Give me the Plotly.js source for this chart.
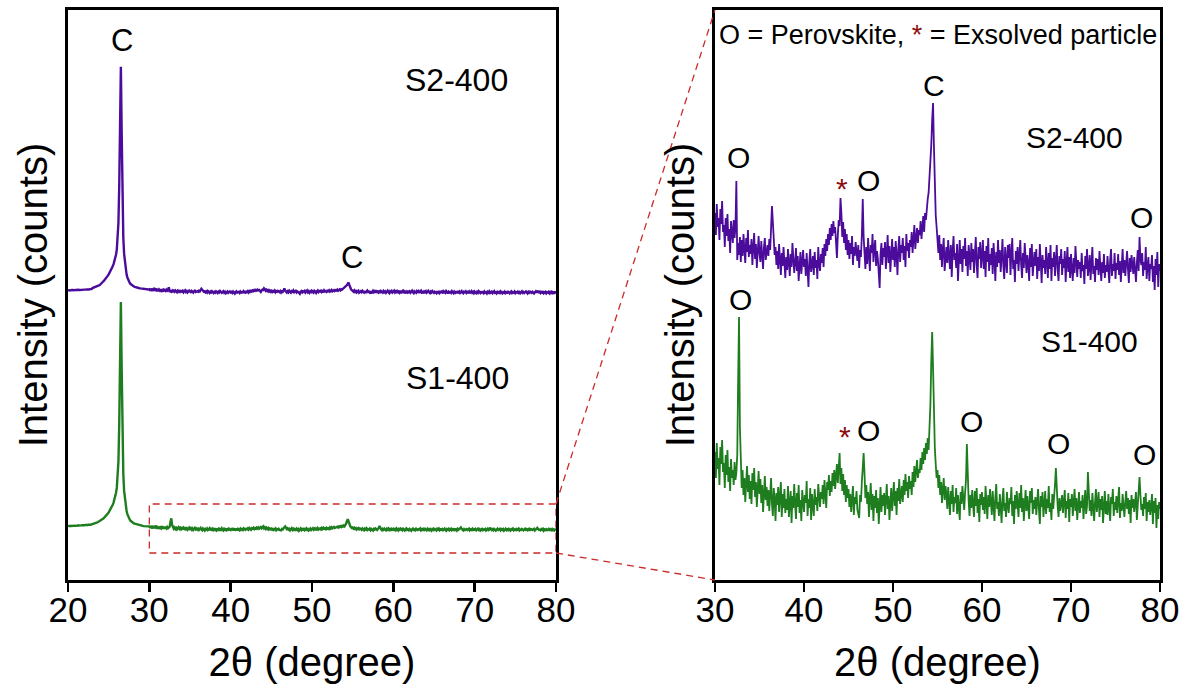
<!DOCTYPE html>
<html>
<head>
<meta charset="utf-8">
<script src="https://cdn.plot.ly/plotly-3.0.1.min.js"></script>
<style>
  html, body { margin: 0; padding: 0; background: #ffffff; }
  #chart { width: 1181px; height: 684px; }
</style>
</head>
<body>
<div id="chart"></div>
<script>
// XRD scans of the two samples, 2θ = 20.0° … 80.0° in 0.1° steps (counts).
const scanStart = 20.0;
const scanStep = 0.1;

// S2-400 (one row per degree)
const s2Counts = [
  332,338,335,330,337,341,334,336,339,333,
  337,340,335,342,338,336,343,339,341,345,
  342,346,344,348,345,350,347,352,349,355,
  370,374,378,383,388,395,401,408,415,422,
  440,451,463,476,490,505,521,538,556,577,
  600,622,646,672,700,732,770,815,865,925,
  1010,1180,1460,2080,3150,4060,2960,1760,1210,940,
  780,680,600,545,505,478,455,438,425,412,
  403,397,392,386,381,378,374,370,368,365,
  362,360,357,355,353,352,350,349,348,346,
  352,330,361,338,347,325,356,341,364,333,
  340,318,347,329,351,324,336,312,344,330,
  322,345,327,338,384,305,322,310,328,303,
  325,309,331,316,302,327,313,335,308,320,
  311,326,300,318,332,306,321,297,315,329,
  312,303,324,308,296,318,327,305,314,320,
  309,326,315,340,359,343,322,310,318,300,
  314,296,321,305,290,312,299,318,304,287,
  308,295,316,301,289,311,298,322,306,292,
  303,317,294,309,284,306,313,291,300,315,
  298,306,289,312,295,278,304,316,293,301,
  309,290,313,297,305,286,318,301,294,311,
  302,317,298,321,309,326,314,331,320,337,
  325,341,329,344,332,338,318,307,330,345,
  339,367,352,328,343,322,336,315,331,310,
  325,306,322,311,329,300,318,309,323,314,
  304,320,297,315,308,330,366,328,312,296,
  318,301,327,309,294,320,312,331,303,316,
  325,299,314,306,290,277,311,322,300,317,
  308,323,296,315,330,302,319,293,312,326,
  305,318,298,324,311,290,316,329,303,320,
  312,327,305,319,298,331,314,322,307,325,
  318,333,312,327,340,316,329,337,322,335,
  330,344,326,338,349,333,352,345,358,366,
  372,385,398,420,445,462,418,375,350,338,
  326,312,330,305,321,298,316,327,294,310,
  318,302,325,309,296,320,288,314,329,305,
  312,297,321,284,308,325,301,316,293,319,
  306,327,299,314,289,320,308,295,322,303,
  316,292,311,328,300,287,318,306,323,297,
  309,325,296,314,288,319,303,327,294,311,
  300,317,291,322,306,284,313,298,325,302,
  315,293,308,326,299,286,318,304,292,320,
  307,321,290,311,327,296,305,283,314,301,
  318,294,309,325,300,287,312,297,322,306,
  292,310,301,284,317,298,321,289,306,313,
  299,316,286,308,294,321,303,282,310,297,
  305,291,318,300,287,312,296,320,284,307,
  298,313,289,305,320,295,284,309,301,316,
  290,306,297,314,283,302,318,293,308,287,
  311,296,284,307,292,319,301,288,305,296,
  303,287,312,294,300,281,309,296,316,289,
  297,310,285,302,318,291,299,283,307,295,
  306,290,314,298,284,303,292,311,287,300,
  293,309,297,282,305,316,289,301,294,312,
  286,302,295,311,290,304,283,298,316,292,
  305,289,300,314,296,282,307,293,310,298,
  291,308,296,283,302,315,294,328,306,300,
  312,289,303,295,318,286,299,308,284,301,
  296,310,283,299,275,306,290,313,278,301,
  294
];

// S1-400 (one row per degree)
const s1Counts = [
  352,358,355,360,354,357,362,356,359,361,
  358,363,360,366,362,359,365,368,364,370,
  367,372,369,375,371,378,374,380,377,383,
  386,390,394,399,404,410,416,422,429,436,
  444,453,463,474,486,499,513,528,545,563,
  583,605,628,653,680,710,745,790,845,905,
  990,1160,1430,2060,3130,4090,2980,1780,1220,940,
  790,690,610,552,510,482,460,442,428,416,
  406,399,393,388,383,379,375,371,368,364,
  361,358,356,353,351,349,347,345,343,341,
  348,322,357,331,342,315,353,336,360,328,
  337,312,345,325,350,318,333,309,341,322,
  330,315,338,320,327,345,420,483,372,325,
  312,330,305,322,298,317,334,308,325,301,
  319,296,327,310,332,303,318,293,314,329,
  306,321,297,315,288,309,324,300,313,294,
  310,289,305,322,296,284,312,301,279,307,
  295,313,288,302,318,283,306,292,311,287,
  301,290,314,283,298,309,277,304,292,316,
  296,281,307,293,315,287,300,279,310,294,
  288,305,297,319,284,301,292,312,280,306,
  298,284,311,295,303,289,316,300,293,308,
  301,315,296,320,307,292,318,310,325,304,
  319,308,327,314,330,311,324,336,317,329,
  347,316,332,309,326,305,320,298,315,302,
  311,293,306,288,300,314,285,303,296,309,
  290,286,282,305,298,318,335,347,326,302,
  315,296,308,283,301,317,290,306,279,304,
  292,310,287,302,276,299,313,288,305,294,
  307,285,300,316,291,304,280,298,312,289,
  303,318,294,309,285,312,299,321,296,307,
  314,298,320,305,326,309,318,302,324,311,
  319,305,328,313,334,318,326,340,322,331,
  327,342,330,348,336,352,340,357,346,362,
  350,368,395,438,468,432,385,352,336,322,
  330,312,325,305,318,297,311,322,300,314,
  306,291,313,298,285,309,296,315,288,303,
  297,312,286,305,293,280,308,296,314,301,
  290,307,320,356,318,299,284,305,292,310,
  296,283,309,294,312,287,301,278,306,295,
  308,290,303,286,314,298,281,305,293,311,
  300,285,309,294,279,303,316,291,298,284,
  306,293,277,301,312,289,297,283,308,294,
  287,302,296,313,284,299,276,305,291,309,
  298,283,307,292,315,288,302,279,296,310,
  289,304,293,281,309,297,312,286,300,291,
  303,285,298,311,290,276,304,293,308,283,
  295,309,286,301,292,314,288,297,280,306,
  291,300,315,332,308,294,283,302,289,298,
  305,287,296,310,282,299,291,307,278,301,
  293,306,284,298,311,289,302,280,296,308,
  287,299,292,305,281,297,310,286,294,328,
  302,289,300,284,307,293,279,298,311,288,
  296,308,283,301,290,304,277,295,309,286,
  299,285,306,292,279,303,296,311,284,298,
  290,304,287,300,313,282,297,289,306,294,
  283,298,309,291,302,286,300,277,305,292,
  301,288,296,308,280,297,311,323,305,290,
  296,284,303,291,307,279,298,288,300,285,
  293,306,276,299,287,302,272,295,281,298,
  291
];

const sampleNames = ['S1-400', 'S2-400'];
const twoTheta = s1Counts.map((_, i) => +(scanStart + i * scanStep).toFixed(1));

// ---- styling / stacking ----
const FONT = 'Liberation Sans, Arial, Helvetica, sans-serif';
const colS1 = '#1e7d1e';
const colS2 = '#4b0c9b';
const starCol = '#8b1010';
const dashRed = '#cc2a2a';

// vertical stacking offsets for each panel
const stack = {
  full: { s1: 545, s2: 4495 },
  zoom: { s1: 0, s2: 235 }
};
const fullRange = [20, 80], fullYRange = [0, 9500];
const zoomRange = [30, 80], zoomYRange = [220, 790];
const dom1 = [0, 488 / 1092], dom2 = [647 / 1092, 1];

const zoomIdx = twoTheta.map((t, i) => i).filter(i => twoTheta[i] >= zoomRange[0]);
const pick = (arr) => zoomIdx.map(i => arr[i]);

const traces = [
  { x: twoTheta, y: s2Counts.map(c => c + stack.full.s2), xaxis: 'x', yaxis: 'y',
    mode: 'lines', name: sampleNames[1], line: { color: colS2, width: 2.4 } },
  { x: twoTheta, y: s1Counts.map(c => c + stack.full.s1), xaxis: 'x', yaxis: 'y',
    mode: 'lines', name: sampleNames[0], line: { color: colS1, width: 2.4 } },
  { x: pick(twoTheta), y: pick(s2Counts).map(c => c + stack.zoom.s2), xaxis: 'x2', yaxis: 'y2',
    mode: 'lines', name: sampleNames[1], line: { color: colS2, width: 1.8 } },
  { x: pick(twoTheta), y: pick(s1Counts).map(c => c + stack.zoom.s1), xaxis: 'x2', yaxis: 'y2',
    mode: 'lines', name: sampleNames[0], line: { color: colS1, width: 1.8 } }
];

const xCommon = {
  dtick: 10, ticks: 'outside', ticklen: 9, tickwidth: 2.5, tickcolor: '#000',
  ticklabelstandoff: -12,
  showline: true, linewidth: 3, linecolor: '#000', mirror: true,
  showgrid: false, zeroline: false,
  tickfont: { family: FONT, size: 35, color: '#000' },
  title: { text: '2θ (degree)', font: { family: FONT, size: 40, color: '#000' } }
};
const yCommon = {
  showticklabels: false, ticks: '', showline: true, linewidth: 3, linecolor: '#000',
  mirror: true, showgrid: false, zeroline: false,
  title: { text: 'Intensity (counts)', font: { family: FONT, size: 40, color: '#000' }, standoff: 6 }
};

// map a data point of a panel to paper coordinates
function toPaper(v, range, domain) {
  return domain[0] + (v - range[0]) / (range[1] - range[0]) * (domain[1] - domain[0]);
}
const zoomBox = { x0: 30, x1: 80, y0: 450, y1: 1267 };

const shapes = [
  { type: 'rect', xref: 'x', yref: 'y', x0: zoomBox.x0, x1: zoomBox.x1, y0: zoomBox.y0, y1: zoomBox.y1,
    line: { color: dashRed, width: 1.3, dash: '7px,5px' } },
  { type: 'line', xref: 'paper', yref: 'paper',
    x0: toPaper(zoomBox.x1, fullRange, dom1), y0: toPaper(zoomBox.y1, fullYRange, [0, 1]),
    x1: toPaper(zoomRange[0], zoomRange, dom2), y1: toPaper(zoomYRange[1], zoomYRange, [0, 1]),
    line: { color: dashRed, width: 1.3, dash: '7px,5px' } },
  { type: 'line', xref: 'paper', yref: 'paper',
    x0: toPaper(zoomBox.x1, fullRange, dom1), y0: toPaper(zoomBox.y0, fullYRange, [0, 1]),
    x1: toPaper(zoomRange[0], zoomRange, dom2), y1: toPaper(zoomYRange[0], zoomYRange, [0, 1]),
    line: { color: dashRed, width: 1.3, dash: '7px,5px' } }
];

function label(text, x, y, axes, size, color) {
  return { text: text, x: x, y: y, xref: axes[0], yref: axes[1], showarrow: false,
           xanchor: 'center', yanchor: 'middle',
           font: { family: FONT, size: size || 30, color: color || '#000' } };
}
const L = ['x', 'y'], R = ['x2', 'y2'];
const annotations = [
  label('C', 26.6, 9000, L, 31),
  label('S2-400', 67.8, 8333, L, 32),
  label('C', 54.9, 5383, L, 31),
  label('S1-400', 67.9, 3367, L, 32),

  label('O = Perovskite, <span style="color:' + starCol + '">*</span> = Exsolved particle', 55.06, 765, R, 27),
  label('C', 54.6, 715, R),
  label('S2-400', 70.4, 663, R, 30),
  label('O', 32.65, 643, R),
  label('*', 44.3, 612, R, 30, starCol),
  label('O', 47.2, 620, R),
  label('O', 77.9, 583, R),
  label('O', 32.85, 501, R),
  label('S1-400', 72.1, 459, R, 30),
  label('*', 44.6, 364, R, 30, starCol),
  label('O', 47.3, 370, R),
  label('O', 58.8, 379, R),
  label('O', 68.65, 357, R),
  label('O', 78.3, 346, R)
];

const layout = {
  width: 1181, height: 684,
  margin: { l: 68, r: 21, t: 10, b: 104 },
  paper_bgcolor: '#ffffff', plot_bgcolor: '#ffffff',
  showlegend: false,
  font: { family: FONT, color: '#000' },
  xaxis: Object.assign({}, xCommon, { domain: dom1, range: fullRange, anchor: 'y' }),
  yaxis: Object.assign({}, yCommon, { range: fullYRange, anchor: 'x' }),
  xaxis2: Object.assign({}, xCommon, { domain: dom2, range: zoomRange, anchor: 'y2' }),
  yaxis2: Object.assign({}, yCommon, { range: zoomYRange, anchor: 'x2' }),
  shapes: shapes,
  annotations: annotations
};

Plotly.newPlot('chart', traces, layout, { displayModeBar: false, staticPlot: true });
</script>
</body>
</html>
